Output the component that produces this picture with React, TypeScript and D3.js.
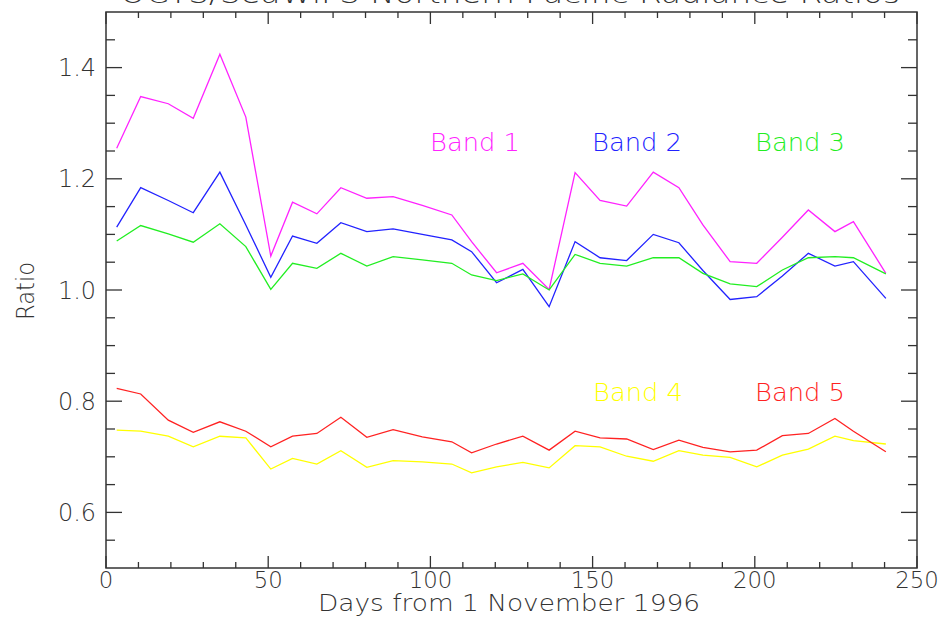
import React, { useRef, useEffect } from 'react';
import * as d3 from 'd3';

const days = [3.3, 10.7, 19.2, 26.9, 35.1, 43.1, 50.8, 57.5, 65.0, 72.4, 80.4, 88.5, 97.5, 106.6, 112.7, 120.4, 128.5, 136.6, 144.6, 152.3, 160.5, 168.7, 176.6, 184.0, 192.4, 200.6, 208.5, 216.5, 224.7, 230.4, 240.4];

const band1 = [1.255, 1.348, 1.335, 1.309, 1.424, 1.311, 1.061, 1.158, 1.137, 1.184, 1.165, 1.168, 1.152, 1.135, 1.087, 1.031, 1.048, 1.001, 1.211, 1.161, 1.151, 1.212, 1.184, 1.117, 1.051, 1.048, 1.095, 1.144, 1.105, 1.123, 1.030];
const band2 = [1.113, 1.184, 1.161, 1.139, 1.212, 1.117, 1.023, 1.097, 1.084, 1.121, 1.105, 1.110, 1.100, 1.090, 1.069, 1.013, 1.037, 0.970, 1.087, 1.058, 1.053, 1.100, 1.085, 1.035, 0.983, 0.988, 1.025, 1.066, 1.043, 1.051, 0.985];
const band3 = [1.088, 1.116, 1.101, 1.086, 1.119, 1.078, 1.001, 1.048, 1.039, 1.066, 1.043, 1.060, 1.054, 1.048, 1.027, 1.017, 1.029, 1.000, 1.064, 1.048, 1.043, 1.058, 1.058, 1.030, 1.011, 1.006, 1.036, 1.058, 1.060, 1.058, 1.029];
const band4 = [0.748, 0.746, 0.737, 0.718, 0.737, 0.734, 0.678, 0.697, 0.687, 0.711, 0.681, 0.693, 0.691, 0.687, 0.671, 0.682, 0.690, 0.680, 0.720, 0.718, 0.701, 0.692, 0.711, 0.703, 0.699, 0.682, 0.703, 0.714, 0.737, 0.729, 0.723];
const band5 = [0.823, 0.813, 0.766, 0.744, 0.763, 0.746, 0.718, 0.737, 0.742, 0.771, 0.735, 0.749, 0.736, 0.727, 0.707, 0.723, 0.737, 0.712, 0.746, 0.734, 0.732, 0.713, 0.730, 0.717, 0.709, 0.712, 0.738, 0.742, 0.769, 0.746, 0.709];

const bandNames = ['Band 1', 'Band 2', 'Band 3', 'Band 4', 'Band 5'];
const bandColors = ['#ff22ff', '#2222ff', '#22ee22', '#ffff00', '#ff2222'];

const xTicks = [0, 50, 100, 150, 200, 250];
const yTicks = [0.6, 0.8, 1.0, 1.2, 1.4];

const title = 'OCTS/SeaWiFS Northern Pacific Radiance Ratios';
const xTitle = 'Days from 1 November 1996';
const yTitle = 'Ratio';

const App = () => {
  const svgRef = useRef(null);

  useEffect(() => {
    const width = 944;
    const height = 619;
    const left = 106, right = 917, top = 12, bottom = 568;
    const font = "'DejaVu Sans', sans-serif";
    const ink = '#333';

    const svg = d3.select(svgRef.current)
      .attr('width', width)
      .attr('height', height)
      .style('position', 'absolute')
      .style('left', '0px')
      .style('top', '0px')
      .style('background', '#fff');
    svg.selectAll('*').remove();

    const x = d3.scaleLinear().domain([0, 250]).range([left, right]);
    const y = d3.scaleLinear().domain([0.5, 1.5]).range([bottom, top]);

    // data lines
    const series = [band1, band2, band3, band4, band5];
    const line = d3.line<number>()
      .x((d, i) => x(days[i]))
      .y(d => y(d));
    series.forEach((s, k) => {
      svg.append('path')
        .attr('d', line(s))
        .attr('fill', 'none')
        .attr('stroke', bandColors[k])
        .attr('stroke-width', 1.3);
    });

    // frame
    svg.append('rect')
      .attr('x', left).attr('y', top)
      .attr('width', right - left).attr('height', bottom - top)
      .attr('fill', 'none').attr('stroke', ink).attr('stroke-width', 1.5);

    // x ticks (bottom + top)
    const xMinor = d3.range(0, 251, 10);
    xMinor.forEach(v => {
      const len = v % 50 === 0 ? 12 : 6;
      svg.append('line').attr('x1', x(v)).attr('x2', x(v))
        .attr('y1', bottom).attr('y2', bottom - len)
        .attr('stroke', ink).attr('stroke-width', 1.3);
      svg.append('line').attr('x1', x(v)).attr('x2', x(v))
        .attr('y1', top).attr('y2', top + len)
        .attr('stroke', ink).attr('stroke-width', 1.3);
    });

    // y ticks (left + right)
    const yMinor = d3.range(11, 30).map(i => i * 0.05);
    yMinor.forEach(v => {
      const major = yTicks.some(t => Math.abs(t - v) < 1e-6);
      const len = major ? 16 : 9;
      svg.append('line').attr('x1', left).attr('x2', left + len)
        .attr('y1', y(v)).attr('y2', y(v))
        .attr('stroke', ink).attr('stroke-width', 1.3);
      svg.append('line').attr('x1', right).attr('x2', right - len)
        .attr('y1', y(v)).attr('y2', y(v))
        .attr('stroke', ink).attr('stroke-width', 1.3);
    });

    const label = (txt, px, py, anchor, len, color = ink, size = 24) =>
      svg.append('text')
        .attr('x', px).attr('y', py)
        .attr('text-anchor', anchor)
        .attr('textLength', len)
        .attr('lengthAdjust', 'spacingAndGlyphs')
        .style('font-family', font)
        .style('font-weight', 200)
        .style('font-size', `${size}px`)
        .attr('fill', color)
        .text(txt);

    xTicks.forEach(v => label(String(v), x(v), 588, 'middle', String(v).length * 14.5, ink, 23));
    yTicks.forEach(v => label(v.toFixed(1), 96, y(v) + 8.5, 'end', 38));

    label(xTitle, 509, 611, 'middle', 382, ink, 23);
    label(yTitle, 0, 0, 'middle', 58)
      .attr('transform', 'translate(34,291) rotate(-90)');

    // title sits mostly above the page edge, as in the source image
    label(title, 510, 3, 'middle', 780, ink, 27);

    // in-plot band labels
    const legendPos = [[430, 151], [592, 151], [755, 151], [593, 401], [755, 401]];
    bandNames.forEach((n, k) => {
      label(n, legendPos[k][0], legendPos[k][1], 'start', 90, bandColors[k]);
    });
  }, []);

  return <svg ref={svgRef}></svg>;
};

export default App;
